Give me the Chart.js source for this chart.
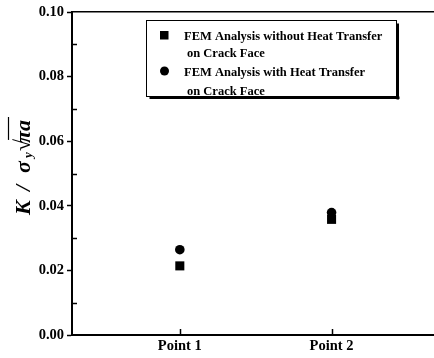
<!DOCTYPE html>
<html>
<head>
<meta charset="utf-8">
<script src="https://cdn.jsdelivr.net/npm/chart.js@4/dist/chart.umd.min.js"></script>
<style>
html,body{margin:0;padding:0;background:#fff;}
#c{display:block;}
</style>
</head>
<body>
<canvas id="c" width="434" height="358"></canvas>
<script>
// ---- data ----
const categories = ['Point 1', 'Point 2'];
const withoutHeat = [0.0214, 0.0358];   // squares
const withHeat = [0.0264, 0.0379];      // circles
const yTicks = [0.00, 0.02, 0.04, 0.06, 0.08, 0.10];
const yMinorTicks = [0.01, 0.03, 0.05, 0.07, 0.09];
const legendLines = [
  ['FEM Analysis without Heat Transfer', 'on Crack Face'],
  ['FEM Analysis with Heat Transfer', 'on Crack Face']
];

const SERIF = '"Liberation Serif", "Times New Roman", serif';
const tickFont = {family: SERIF, size: 14.5, weight: 'bold'};

const extrasPlugin = {
  id: 'extras',
  afterDraw(chart) {
    const ctx = chart.ctx;
    const ca = chart.chartArea;
    const xs = chart.scales.x, ys = chart.scales.y;
    ctx.save();
    ctx.strokeStyle = '#000';
    ctx.lineWidth = 1.5;
    // minor y ticks (inside)
    yMinorTicks.forEach(v => {
      const py = Math.round(ys.getPixelForValue(v)) + 0.5;
      ctx.beginPath(); ctx.moveTo(ca.left, py); ctx.lineTo(ca.left + 5, py); ctx.stroke();
    });
    // x ticks (inside)
    categories.forEach((c, i) => {
      const px = Math.round(xs.getPixelForValue(i)) + 0.5;
      ctx.beginPath(); ctx.moveTo(px, ca.bottom); ctx.lineTo(px, ca.bottom - 6); ctx.stroke();
    });
    // legend box
    const bx = 146.5, by = 20.5, bw = 250, bh = 76;
    ctx.fillStyle = '#fff';
    ctx.fillRect(bx, by, bw, bh);
    ctx.lineWidth = 1;
    ctx.strokeRect(bx, by, bw, bh);
    ctx.fillStyle = '#000';
    ctx.fillRect(bx + bw, by + 3, 2.5, bh);
    ctx.fillRect(bx + 3, by + bh, bw, 2.5);
    // legend markers
    ctx.fillRect(160, 31, 8.5, 8.5);
    ctx.beginPath(); ctx.arc(164.5, 71, 4.5, 0, Math.PI * 2); ctx.fill();
    // legend text
    ctx.font = 'bold 12.5px ' + SERIF;
    ctx.textBaseline = 'alphabetic';
    ctx.textAlign = 'left';
    ctx.fillText(legendLines[0][0], 184, 39.5);
    ctx.fillText(legendLines[0][1], 187, 57);
    ctx.fillText(legendLines[1][0], 184, 76);
    ctx.fillText(legendLines[1][1], 187, 94.5);
    // y axis title: K / σ_y √(πa)
    ctx.save();
    ctx.translate(21, 166);
    ctx.rotate(-Math.PI / 2);
    const big = 'italic bold 22px ' + SERIF;
    const small = 'italic bold 13px ' + SERIF;
    const up = 'bold 22px ' + SERIF;
    const base = 9;
    ctx.font = big;
    ctx.fillText('K', -49, base);
    ctx.fillText('/', -25, base);
    ctx.fillText('σ', -7, base);
    ctx.font = small;
    ctx.fillText('y', 8, base + 2);
    ctx.font = up;
    ctx.fillText('√', 15, base);
    const rw = ctx.measureText('√').width;
    ctx.font = big;
    ctx.fillText('π', 23, base);
    ctx.fillText('a', 35, base);
    ctx.lineWidth = 1.2;
    ctx.beginPath(); ctx.moveTo(15 + rw - 1, base - 21.5); ctx.lineTo(49, base - 21.5); ctx.stroke();
    ctx.restore();
    ctx.restore();
  }
};

new Chart(document.getElementById('c'), {
  type: 'scatter',
  data: {
    datasets: [
      {
        label: legendLines[0].join(' '),
        data: withoutHeat.map((v, i) => ({x: i, y: v})),
        pointStyle: 'rect',
        pointRadius: 6.4,
        backgroundColor: '#000',
        borderColor: '#000',
        borderWidth: 0
      },
      {
        label: legendLines[1].join(' '),
        data: withHeat.map((v, i) => ({x: i, y: v})),
        pointStyle: 'circle',
        pointRadius: 4.8,
        backgroundColor: '#000',
        borderColor: '#000',
        borderWidth: 0
      }
    ]
  },
  options: {
    responsive: false,
    devicePixelRatio: 1,
    animation: false,
    layout: {autoPadding: false, padding: {top: 12, right: 0, left: 0, bottom: 0}},
    plugins: {legend: {display: false}, tooltip: {enabled: false}},
    scales: {
      x: {
        type: 'linear',
        position: 'bottom',
        min: -0.7105,
        max: 1.675,
        afterBuildTicks: s => { s.ticks = categories.map((c, i) => ({value: i})); },
        afterFit: s => { s.height = 23; s.paddingRight = 0; s.paddingLeft = 0; },
        ticks: {
          callback: v => categories[v],
          font: tickFont,
          color: '#000',
          padding: 3,
          maxRotation: 0,
          autoSkip: false
        },
        grid: {display: true, drawOnChartArea: false, drawTicks: false},
        border: {display: true, color: '#000', width: 2}
      },
      x2: {
        type: 'linear',
        position: 'top',
        min: 0, max: 1,
        afterFit: s => { s.height = 0; s.paddingRight = 0; s.paddingLeft = 0; },
        ticks: {display: false},
        grid: {display: true, drawOnChartArea: false, drawTicks: false},
        border: {display: true, color: '#000', width: 1.5}
      },
      y: {
        min: 0,
        max: 0.1,
        afterBuildTicks: s => { s.ticks = yTicks.map(v => ({value: v})); },
        afterFit: s => { s.width = 72; },
        ticks: {
          callback: v => v.toFixed(2),
          font: tickFont,
          color: '#000',
          padding: 3
        },
        grid: {display: true, drawOnChartArea: false, drawTicks: true, tickLength: 5, tickWidth: 1.5, tickColor: '#000'},
        border: {display: true, color: '#000', width: 2}
      }
    }
  },
  plugins: [extrasPlugin]
});
</script>
</body>
</html>
